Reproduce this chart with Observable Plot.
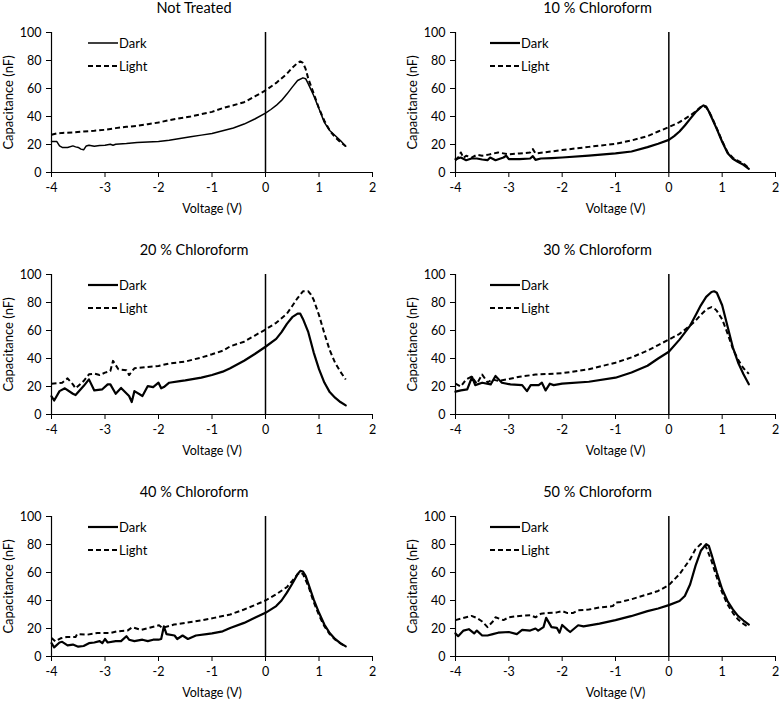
<!DOCTYPE html>
<html>
<head>
<meta charset="utf-8">
<script src="https://cdn.jsdelivr.net/npm/d3@7"></script>
<script src="https://cdn.jsdelivr.net/npm/@observablehq/plot@0.6"></script>
<style>
  body { margin: 0; background: #fff; }
  #chart { position: relative; width: 780px; height: 701px; font-family: Lato, "Open Sans", sans-serif; }
  .panel { position: absolute; }
  .panel svg { overflow: visible; }
</style>
</head>
<body>
<div id="chart"></div>
<script>
// ---- Data ----
const panelTitles = ["Not Treated", "10 % Chloroform", "20 % Chloroform", "30 % Chloroform", "40 % Chloroform", "50 % Chloroform"];
const seriesNames = ["Dark", "Light"];
const voltageTicks = [-4, -3, -2, -1, 0, 1, 2];
const capacitanceTicks = [0, 20, 40, 60, 80, 100];
const xLabel = "Voltage (V)";
const yLabel = "Capacitance (nF)";

// [voltage V, capacitance nF]
const notTreatedDark = [[-4,22.1],[-3.9,22.1],[-3.85,19],[-3.8,17.9],[-3.7,17.9],[-3.6,19],[-3.55,18.3],[-3.5,17.9],[-3.45,16.7],[-3.4,16.2],[-3.35,19],[-3.3,19.5],[-3.2,18.8],[-3.1,19.3],[-3.0,19.5],[-2.9,20.2],[-2.85,19.5],[-2.8,20.2],[-2.6,20.7],[-2.4,21.4],[-2.2,21.7],[-2.0,22.1],[-1.8,23.1],[-1.6,24.3],[-1.4,25.5],[-1.2,26.7],[-1.0,27.9],[-0.8,29.8],[-0.6,31.8],[-0.4,34.6],[-0.2,38.2],[0,42.4],[0.1,45],[0.2,47.9],[0.3,51.5],[0.4,56],[0.5,61],[0.6,65.7],[0.7,67.6],[0.75,67],[0.8,63.3],[0.9,55],[1.0,45.5],[1.1,35.8],[1.2,30],[1.3,26.4],[1.4,22.9],[1.5,18.8]];
const notTreatedLight = [[-4,26.9],[-3.9,27.9],[-3.8,28.3],[-3.6,28.6],[-3.4,29.3],[-3.2,29.8],[-3.0,30.5],[-2.8,31.7],[-2.6,32.6],[-2.4,33.3],[-2.2,34.5],[-2.0,35.7],[-1.8,37.4],[-1.6,38.8],[-1.4,40],[-1.2,41.7],[-1.0,43.3],[-0.8,46],[-0.6,48],[-0.4,50.2],[-0.2,54.3],[0,58.6],[0.2,64],[0.4,70.5],[0.5,74.8],[0.6,78.3],[0.65,79.3],[0.7,78.3],[0.75,74],[0.8,67],[0.9,56.5],[1.0,45.8],[1.1,37],[1.2,30],[1.3,25.2],[1.4,21.7],[1.5,18.8]];

const chloro10Dark = [[-4,9.5],[-3.9,10.7],[-3.8,8.8],[-3.7,10],[-3.6,10],[-3.5,9.3],[-3.4,8.8],[-3.35,10.7],[-3.25,8.8],[-3.1,10.7],[-3.05,12],[-3.0,9.5],[-2.8,9.5],[-2.6,10],[-2.55,11.7],[-2.5,9],[-2.4,10],[-2.2,10.3],[-2.0,10.7],[-1.5,12],[-1.0,13.6],[-0.7,15],[-0.4,18.1],[-0.2,20.5],[0,23.3],[0.1,26],[0.2,29.3],[0.3,33.6],[0.4,38.3],[0.5,43],[0.6,46.7],[0.65,47.9],[0.7,47.1],[0.75,43.6],[0.8,39.5],[0.9,31],[1.0,22],[1.1,14],[1.2,9.8],[1.3,7.5],[1.4,5.5],[1.5,2.6]];
const chloro10Light = [[-4,8.8],[-3.95,10.7],[-3.9,14.3],[-3.85,10.5],[-3.8,12],[-3.7,10.7],[-3.6,12.6],[-3.5,12],[-3.4,12.6],[-3.2,14.3],[-3.0,13],[-2.8,13.6],[-2.6,14.3],[-2.55,16.7],[-2.5,13.6],[-2.0,16],[-1.5,18.3],[-1.0,20.5],[-0.7,22.9],[-0.4,26],[-0.2,29.3],[0,32.4],[0.2,36],[0.4,40.7],[0.5,43.6],[0.6,46.7],[0.65,47.4],[0.7,46.5],[0.75,43.8],[0.8,40],[0.9,31.5],[1.0,22.5],[1.1,14.5],[1.2,10.5],[1.3,8.3],[1.4,6.5],[1.5,3.2]];

const chloro20Dark = [[-4,13],[-3.95,10],[-3.85,16.7],[-3.75,18.7],[-3.6,14.8],[-3.55,13.9],[-3.4,20.3],[-3.3,25.1],[-3.2,17.2],[-3.05,18],[-2.95,21.5],[-2.9,21.5],[-2.8,14.8],[-2.7,19],[-2.55,13.2],[-2.5,8.9],[-2.45,16.7],[-2.3,13.2],[-2.2,20.3],[-2.1,19.6],[-2.0,22.7],[-1.95,18.7],[-1.9,19.6],[-1.8,22.7],[-1.6,23.9],[-1.5,24.4],[-1.2,26.3],[-1.0,28.2],[-0.8,30.6],[-0.66,33.1],[-0.4,38.4],[-0.2,43.2],[0,48.4],[0.2,54],[0.3,58.8],[0.4,64.7],[0.5,69.5],[0.6,72],[0.65,72],[0.7,68.3],[0.8,58.8],[0.9,44.4],[1.0,32.4],[1.1,22.8],[1.2,16],[1.3,12],[1.4,8.9],[1.5,6.5]];
const chloro20Light = [[-4,22],[-3.8,22.7],[-3.7,25.8],[-3.6,21.5],[-3.55,18.7],[-3.4,23.9],[-3.3,28.7],[-3.2,29.2],[-3.1,28.2],[-3.0,29.9],[-2.9,31.1],[-2.85,38.3],[-2.75,32.3],[-2.6,31.6],[-2.55,28.2],[-2.45,33],[-2.2,34],[-2.0,34.7],[-1.8,36.4],[-1.5,37.8],[-1.2,40.7],[-1.0,43],[-0.8,45.5],[-0.66,48.7],[-0.4,52],[-0.2,56.4],[0,60.7],[0.2,65.5],[0.4,72],[0.5,77.5],[0.6,83.2],[0.7,88],[0.8,88],[0.85,85.6],[0.9,82],[1.0,71],[1.1,58],[1.2,46],[1.3,37],[1.4,30.5],[1.5,25]];

const chloro30Dark = [[-4,16.3],[-3.9,17.2],[-3.78,18],[-3.69,26.8],[-3.63,21],[-3.5,22.7],[-3.34,21.5],[-3.25,27.5],[-3.13,22.7],[-2.97,21.5],[-2.75,21],[-2.66,16.7],[-2.59,21],[-2.44,21],[-2.38,22.7],[-2.31,17.2],[-2.23,22],[-2.16,21],[-2.0,22],[-1.5,23.4],[-1.0,26.3],[-0.7,30],[-0.4,34.8],[-0.2,40],[0,44.8],[0.2,53.5],[0.4,63.5],[0.5,70.7],[0.6,78],[0.7,84],[0.8,87.5],[0.85,88],[0.9,87],[1.0,78],[1.1,63],[1.2,48],[1.3,37],[1.4,28.8],[1.5,21.6]];
const chloro30Light = [[-4,22],[-3.9,20],[-3.8,25],[-3.7,27],[-3.6,22],[-3.5,28.5],[-3.4,23],[-3.3,25],[-3.2,24],[-3.0,25.3],[-2.8,27],[-2.5,28.5],[-2.0,29.5],[-1.5,32.3],[-1.0,37],[-0.7,40.8],[-0.4,45.6],[-0.2,49.6],[0,53.5],[0.2,57.6],[0.4,63.5],[0.5,67],[0.6,71.2],[0.7,75],[0.8,76.7],[0.85,76],[0.9,74],[1.0,68],[1.1,58],[1.2,47],[1.3,39],[1.4,33],[1.5,29]];

const chloro40Dark = [[-4,9.5],[-3.95,6.5],[-3.85,10],[-3.8,10.5],[-3.7,8],[-3.6,8.5],[-3.5,7],[-3.4,7.5],[-3.3,9.5],[-3.2,10],[-3.1,11],[-3.05,9.5],[-3,12.5],[-2.95,10],[-2.8,11],[-2.7,11],[-2.6,14.5],[-2.55,12],[-2.45,11],[-2.3,12],[-2.2,11],[-2.1,12],[-2,12],[-1.95,12.5],[-1.9,21.5],[-1.85,16],[-1.7,15],[-1.65,12.5],[-1.55,15],[-1.45,12.5],[-1.3,15],[-1.1,16],[-1,16.5],[-0.8,18],[-0.66,20.4],[-0.4,24],[-0.2,27.6],[0,31.2],[0.2,36],[0.3,40],[0.4,45.6],[0.5,52],[0.6,58.8],[0.65,61.2],[0.7,60.7],[0.75,57.6],[0.8,52],[0.9,40.8],[1,31.2],[1.1,22.8],[1.2,16.8],[1.3,12.5],[1.4,9.6],[1.5,7.2]];
const chloro40Light = [[-4,13.2],[-3.93,10.8],[-3.83,13],[-3.71,14],[-3.55,14],[-3.52,16],[-3.33,15.6],[-3.14,16.8],[-2.89,16.8],[-2.77,18],[-2.58,18.5],[-2.49,20.9],[-2.33,19],[-2.18,20.4],[-1.99,22.3],[-1.93,20.4],[-1.71,22.8],[-1.21,25.7],[-0.96,27.6],[-0.66,30],[-0.4,33.6],[-0.2,36.7],[0,40],[0.2,44.4],[0.4,49.6],[0.5,54],[0.6,58.8],[0.65,60],[0.7,58.8],[0.8,50.4],[0.9,39],[1,29.5],[1.1,21.6],[1.2,16],[1.3,12.2],[1.4,9.4],[1.5,7]];

const chloro50Dark = [[-4,16.5],[-3.95,14.5],[-3.85,18.5],[-3.75,19.5],[-3.65,16.5],[-3.6,18.5],[-3.5,15],[-3.4,15],[-3.3,16],[-3.2,17],[-3.0,17.5],[-2.85,16],[-2.75,19],[-2.6,18.5],[-2.5,20],[-2.45,18.5],[-2.35,21],[-2.3,27.6],[-2.2,21],[-2.1,20.5],[-2.05,17],[-2.0,22.5],[-1.9,19],[-1.85,17.5],[-1.7,22.3],[-1.6,21.5],[-1.3,23.5],[-1.0,26],[-0.71,28.8],[-0.4,32.4],[-0.2,34.3],[0,36.7],[0.2,39.6],[0.3,43.2],[0.4,51.6],[0.5,64.7],[0.6,75.5],[0.7,80.3],[0.75,79],[0.8,73],[0.9,60],[1.0,48],[1.1,39.6],[1.2,33.6],[1.3,28.8],[1.4,25.7],[1.5,22.8]];
const chloro50Light = [[-4,26],[-3.8,28],[-3.7,29],[-3.6,27.5],[-3.5,25],[-3.4,21],[-3.3,25],[-3.25,28],[-3.1,26],[-3.0,28],[-2.8,29],[-2.6,29.5],[-2.5,28],[-2.4,30.5],[-2.3,31],[-2.1,31.5],[-2.0,32.5],[-1.9,31],[-1.8,31],[-1.7,33],[-1.5,33.5],[-1.3,35],[-1.05,36],[-1.0,38.5],[-0.9,39],[-0.71,40.8],[-0.4,44.4],[-0.2,46.8],[0,51],[0.2,58.8],[0.4,69.5],[0.5,76.7],[0.6,80.3],[0.65,80.3],[0.7,78],[0.8,68.3],[0.9,56.4],[1.0,45.6],[1.1,37.2],[1.2,31.2],[1.3,26.4],[1.4,23.3],[1.5,20.9]];

const darkSeries = [notTreatedDark, chloro10Dark, chloro20Dark, chloro30Dark, chloro40Dark, chloro50Dark];
const lightSeries = [notTreatedLight, chloro10Light, chloro20Light, chloro30Light, chloro40Light, chloro50Light];

// ---- Drawing ----
const chart = document.getElementById("chart");
const FONT = "Lato, 'Open Sans', sans-serif";

panelTitles.forEach((title, i) => {
  const col = i % 2, row = Math.floor(i / 2);
  const mLeft = col ? 65 : 51, mRight = col ? 5 : 18;
  const darkWidth = i === 0 ? 1.5 : 2.2;
  const plot = Plot.plot({
    width: 390,
    height: 217,
    marginTop: 32,
    marginBottom: 45,
    marginLeft: mLeft,
    marginRight: mRight,
    x: {domain: [-4, 2]},
    y: {domain: [0, 100]},
    style: {fontFamily: FONT, fontSize: "12px", color: "#000", background: "transparent"},
    marks: [
      Plot.axisY({ticks: capacitanceTicks, tickSize: 5, tickPadding: 5, label: null, fontSize: 12.5, tickFormat: d => String(d)}),
      Plot.axisX({ticks: voltageTicks, tickSize: 5, tickPadding: 6, label: null, fontSize: 12.5, tickFormat: d => String(d)}),
      Plot.ruleY([0], {stroke: "#000", strokeWidth: 1.2}),
      Plot.ruleX([-4], {stroke: "#000", strokeWidth: 1.2}),
      Plot.ruleX([0], {stroke: "#000", strokeWidth: 1.5}),
      Plot.line(lightSeries[i], {x: d => d[0], y: d => d[1], stroke: "#000", strokeWidth: 2, strokeDasharray: "5,3", strokeLinecap: "butt"}),
      Plot.line(darkSeries[i], {x: d => d[0], y: d => d[1], stroke: "#000", strokeWidth: darkWidth}),
      Plot.text([title], {text: d => d, frameAnchor: "top", dx: -18, dy: -24, fontSize: 14.5, lineAnchor: "middle", fill: "#000"}),
      Plot.text([xLabel], {text: d => d, frameAnchor: "bottom", dy: 36, fontSize: 12.5, lineAnchor: "middle", fill: "#000"}),
      Plot.text([yLabel], {text: d => d, frameAnchor: "left", dx: -43, rotate: -90, fontSize: 13, lineAnchor: "middle", textAnchor: "middle", fill: "#000"})
    ]
  });

  // legend inside the plot area
  const svg = d3.select(plot);
  const lx = col ? 100 : 88;
  const lg = svg.append("g").attr("font-family", FONT).attr("font-size", 13).attr("text-anchor", "start");
  seriesNames.forEach((name, k) => {
    const y = k === 0 ? 43 : 66;
    lg.append("line").attr("x1", lx).attr("x2", lx + 30).attr("y1", y).attr("y2", y)
      .attr("stroke", "#000").attr("stroke-width", k === 0 ? darkWidth : 2)
      .attr("stroke-dasharray", k === 0 ? null : "5,3");
    lg.append("text").attr("x", lx + 31).attr("y", y).attr("dy", "0.35em")
      .attr("text-anchor", "start").attr("fill", "#000").text(name);
  });

  const wrap = document.createElement("div");
  wrap.className = "panel";
  wrap.style.left = (col * 390) + "px";
  wrap.style.top = (row * 242) + "px";
  wrap.appendChild(plot);
  chart.appendChild(wrap);
});
</script>
</body>
</html>
